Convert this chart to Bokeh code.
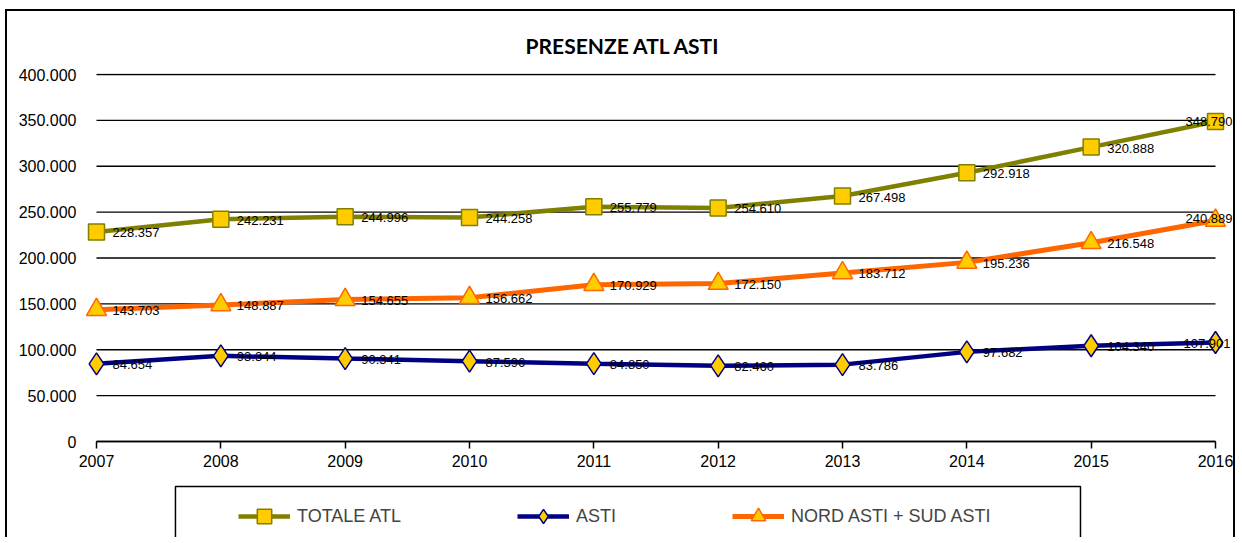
from bokeh.plotting import figure
from bokeh.models import (ColumnDataSource, Range1d, FixedTicker, CustomJSTickFormatter,
                          Legend, LegendItem)
from bokeh.core.properties import value
from bokeh.embed import file_html
from bokeh.resources import INLINE

years = [2007, 2008, 2009, 2010, 2011, 2012, 2013, 2014, 2015, 2016]
totale_atl = [228357, 242231, 244996, 244258, 255779, 254610, 267498, 292918, 320888, 348790]
asti = [84654, 93344, 90341, 87596, 84850, 82460, 83786, 97682, 104340, 107901]
nord_sud = [143703, 148887, 154655, 156662, 170929, 172150, 183712, 195236, 216548, 240889]
y_ticks = [0, 50000, 100000, 150000, 200000, 250000, 300000, 350000, 400000]
title_text = "PRESENZE ATL ASTI"
names = ["TOTALE ATL", "ASTI", "NORD ASTI + SUD ASTI"]

FONT = "Liberation Sans"


def fmt(v):
    return f"{v:,}".replace(",", ".")


p = figure(width=1230, height=528, output_backend="svg", toolbar_location=None,
           x_range=Range1d(2006.8552, 2016.1769), y_range=Range1d(-106812, 401090),
           min_border_left=71, min_border_right=0, min_border_top=62, min_border_bottom=0)
p.styles = {"border": "2px solid black", "border-bottom": "none",
            "margin-left": "5px", "margin-top": "9px"}
p.outline_line_color = None
p.background_fill_color = "white"
p.border_fill_color = "white"

# axes
p.xaxis.fixed_location = 0
p.xaxis.bounds = (years[0], years[-1])
p.xaxis.ticker = FixedTicker(ticks=years)
p.xaxis.formatter = CustomJSTickFormatter(code="return tick.toFixed(0);")
p.xaxis.major_tick_in = 0
p.xaxis.major_tick_out = 7
p.xaxis.minor_tick_line_color = None
p.xaxis.axis_line_color = "black"
p.xaxis.axis_line_width = 1.5
p.xaxis.major_tick_line_width = 1.5
p.xaxis.major_label_text_font = FONT
p.xaxis.major_label_text_font_size = "16px"
p.xaxis.major_label_text_color = "black"
p.xaxis.major_label_standoff = 6

p.yaxis.ticker = FixedTicker(ticks=y_ticks)
p.yaxis.formatter = CustomJSTickFormatter(
    code="return Math.round(tick).toString().replace(/\\B(?=(\\d{3})+(?!\\d))/g, '.');")
p.yaxis.axis_line_color = None
p.yaxis.major_tick_line_color = None
p.yaxis.minor_tick_line_color = None
p.yaxis.major_label_text_font = FONT
p.yaxis.major_label_text_font_size = "16px"
p.yaxis.major_label_text_color = "black"
p.yaxis.major_label_standoff = -4

# horizontal grid lines spanning the category extent only
p.xgrid.grid_line_color = None
p.ygrid.grid_line_color = None
p.segment(x0=[years[0]] * len(y_ticks), x1=[years[-1]] * len(y_ticks), y0=y_ticks, y1=y_ticks,
          line_color="black", line_width=1.4, level="underlay")

series = [
    (totale_atl, "#808000", 4.5, "square", 16, "#808000", -30, 0),
    (asti, "#000080", 4.5, "diamond", 22, "#000080", -32, 1),
    (nord_sud, "#FF6600", 5, "triangle", 20, "#FF6600", -30, -2),
]

items = []
for (vals, col, lw, marker, size, mline, last_xo, last_yo), name in zip(series, names):
    xo = [16] * (len(years) - 1) + [last_xo]
    yo = [1] * (len(years) - 1) + [last_yo]
    src = ColumnDataSource(dict(x=years, y=vals, label=[fmt(v) for v in vals], xo=xo, yo=yo))
    ln = p.line("x", "y", source=src, line_color=col, line_width=lw, level="overlay")
    sc = p.scatter("x", "y", source=src, marker=marker, size=size, fill_color="#FFCC00",
                   line_color=mline, line_width=1.5, level="overlay")
    items.append(LegendItem(label=name, renderers=[ln, sc]))
    p.text("x", "y", text="label", source=src, x_offset="xo", y_offset="yo",
           text_font=value(FONT), text_font_size="13px", text_color="black",
           text_baseline="middle", text_align="left", level="overlay")

# legend frame box (drawn below the plot area)
p.quad(left=[2007.635], right=[2014.914], top=[-49000], bottom=[-200000],
       fill_color=None, line_color="black", line_width=1.5, level="overlay")

# chart title
p.text(x=[2011.5], y=[400000], text=[title_text], x_offset=-33, y_offset=-29,
       text_font=value("Lato"), text_font_size="21px", text_font_style="bold",
       text_align="center", text_baseline="middle", text_color="black", level="overlay")

legend = Legend(items=items, orientation="horizontal", location=(160, 5),
                padding=0, margin=0, spacing=116, glyph_width=52, glyph_height=36,
                label_standoff=7, label_text_font=FONT, label_text_font_size="18px",
                border_line_color=None, background_fill_alpha=0)
p.add_layout(legend)

open("out.html", "w").write(file_html(p, INLINE))
